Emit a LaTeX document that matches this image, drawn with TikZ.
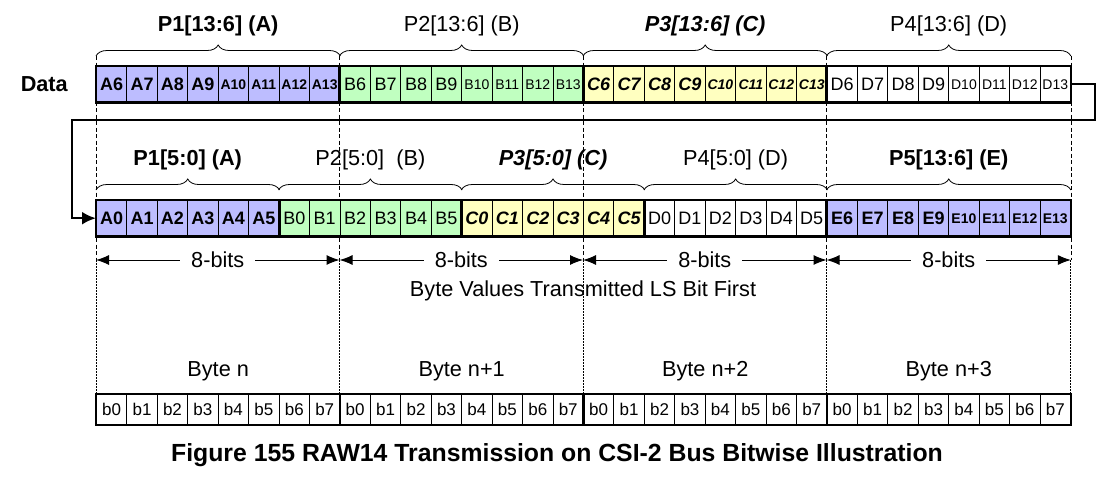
\documentclass[tikz,border=0pt]{standalone}
\usepackage{fontspec}
\setmainfont{Liberation Sans}
\usetikzlibrary{arrows.meta, positioning, calc, backgrounds, decorations.pathreplacing}

\definecolor{lavender}{RGB}{189,189,255}
\definecolor{mint}{RGB}{192,255,192}
\definecolor{cream}{RGB}{255,255,192}

\newcommand{\cellfont}{\fontsize{18}{20}\selectfont}
\newcommand{\smallcell}{\fontsize{14}{16}\selectfont}
\newcommand{\bitfont}{\fontsize{17}{19}\selectfont}
\newcommand{\labelfont}{\fontsize{21.7}{25}\selectfont}

\begin{document}
\begin{tikzpicture}[
    x=1pt, y=-1pt,
    cell/.style = {
        draw,
        line width=0.8pt,
        minimum width=30.44pt,
        minimum height=35.6pt,
        inner sep=0pt,
        anchor=north west,
    },
    cellA/.style = {cell, fill=lavender, font=\cellfont\bfseries},
    cellB/.style = {cell, fill=mint, font=\cellfont},
    cellC/.style = {cell, fill=cream, font=\cellfont\bfseries\itshape},
    cellD/.style = {cell, fill=white, font=\cellfont},
    cellE/.style = {cell, fill=lavender, font=\cellfont\bfseries},
    bitCell/.style = {cell, fill=white, minimum height=30pt, font=\bitfont},
    groupBox/.style = {draw, line width=2.2pt},
    byteBox/.style = {draw, line width=1.4pt},
    braceLine/.style = {
        decorate,
        decoration={brace, amplitude=11pt},
        line width=0.8pt,
    },
    guideDash/.style = {line width=0.7pt, dash pattern=on 4pt off 2.5pt},
    guideDot/.style = {line width=0.8pt, dash pattern=on 1.5pt off 1.5pt},
    spanArrow/.style = {
        line width=1pt,
        {Latex[length=13pt, width=10pt]}-{Latex[length=13pt, width=10pt]},
    },
    wrapLine/.style = {
        line width=2.5pt,
        -{Latex[length=14pt, width=13pt]},
    },
    braceText/.style = {anchor=base, yshift=25pt, inner sep=0pt, font=\labelfont},
    plainText/.style = {inner sep=0pt, font=\labelfont},
]
\useasboundingbox (0,0) rectangle (1113,482);

% pixel data, first row
\foreach \grp [count=\g from 0] in {A,B,C,D}
    \foreach \k in {6,...,13} {
        \pgfmathtruncatemacro{\i}{8*\g+\k-6}
        \node[cell\grp] (top-\i) at (96+30.44*\i, 66)
            {\ifnum\k>9 \smallcell\fi\grp\k};
    }

% pixel data, second row
\foreach \grp/\first/\last/\start in {A/0/5/0, B/0/5/6, C/0/5/12, D/0/5/18, E/6/13/24}
    \foreach \k in {\first,...,\last} {
        \pgfmathtruncatemacro{\i}{\start+\k-\first}
        \node[cell\grp] (low-\i) at (96+30.44*\i, 200)
            {\ifnum\k>9 \smallcell\fi\grp\k};
    }

% bits of each byte
\foreach \i in {0,...,31} {
    \pgfmathtruncatemacro{\b}{mod(\i,8)}
    \node[bitCell] (bit-\i) at (96+30.44*\i, 394) {b\b};
}

\foreach \a/\b in {0/7, 8/15, 16/23, 24/31}
    \draw[groupBox] (top-\a.north west) rectangle (top-\b.south east);
\foreach \a/\b in {0/5, 6/11, 12/17, 18/23, 24/31}
    \draw[groupBox] (low-\a.north west) rectangle (low-\b.south east);
\foreach \a/\b in {0/7, 8/15, 16/23, 24/31}
    \draw[byteBox] (bit-\a.north west) rectangle (bit-\b.south east);

\node[plainText, font=\labelfont\bfseries, left=28pt of top-0] (data) {Data};

% braces
\foreach \a/\b/\txt in {0/7/{\bfseries P1[13:6] (A)}, 8/15/{P2[13:6] (B)},
        16/23/{\bfseries\itshape P3[13:6] (C)}, 24/31/{P4[13:6] (D)}}
    \draw[braceLine] ([yshift=10pt]top-\a.north west) -- ([yshift=10pt]top-\b.north east)
        node[braceText, midway] {\txt};
\foreach \a/\b/\txt in {0/5/{\bfseries P1[5:0] (A)}, 6/11/{P2[5:0]~ (B)},
        12/17/{\bfseries\itshape P3[5:0] (C)}, 18/23/{P4[5:0] (D)},
        24/31/{\bfseries P5[13:6] (E)}}
    \draw[braceLine] ([yshift=10pt]low-\a.north west) -- ([yshift=10pt]low-\b.north east)
        node[braceText, midway] {\txt};

% byte borders
\coordinate (spanLevel) at (0,260);
\foreach \i/\side [count=\n from 0] in {0/north west, 8/north west, 16/north west,
        24/north west, 31/north east}
    \coordinate (mark-\n) at (bit-\i.\side |- spanLevel);

\begin{scope}[on background layer]
\foreach \i/\side [count=\n from 0] in {0/north west, 8/north west, 16/north west,
        24/north west, 31/north east} {
    \draw[guideDash] ([yshift=10pt]top-\i.\side) -- (mark-\n);
    \draw[guideDot] (mark-\n) -- (bit-\i.\side);
}
\end{scope}

\foreach \n [count=\m] in {0,...,3}
    \draw[spanArrow] (mark-\n) -- (mark-\m)
        node[midway, fill=white, inner xsep=11pt, inner ysep=0pt, font=\labelfont] {8-bits};

\node[plainText] (lsb) at ($(mark-2)+(0,31)$) {Byte Values Transmitted LS Bit First};

\foreach \a/\b/\txt in {0/7/Byte n, 8/15/Byte n+1, 16/23/Byte n+2, 24/31/Byte n+3}
    \node[plainText, anchor=base] (byte-\a) at ($(bit-\a.north west)!0.5!(bit-\b.north east)+(0,-18)$) {\txt};

% second row follows the first
\draw[wrapLine] (top-31.east) -- ++(24,0) -- ++(0,36)
    -| ([xshift=-24pt]low-0.west) -- (low-0.west);

\node[font=\fontsize{24.8}{28}\selectfont\bfseries] (caption) at (557,455)
    {Figure 155 RAW14 Transmission on CSI-2 Bus Bitwise Illustration};

\end{tikzpicture}
\end{document}
